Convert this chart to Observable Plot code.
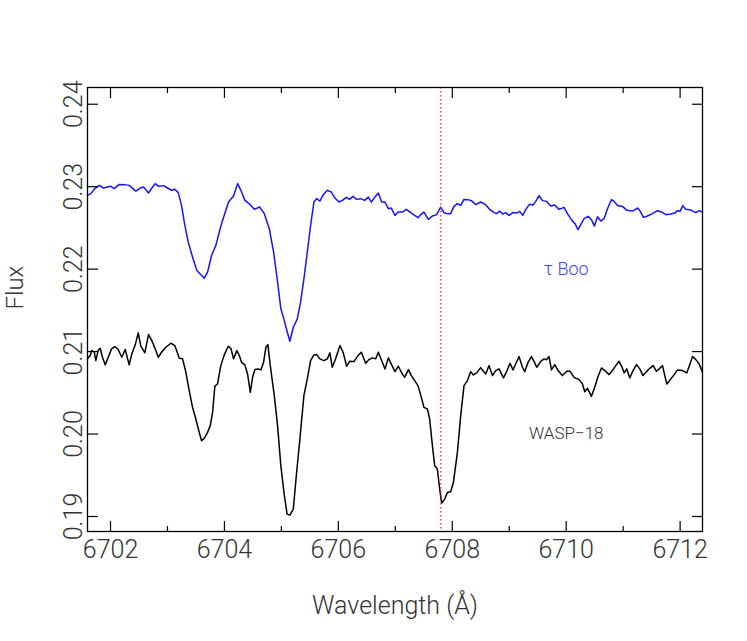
<!DOCTYPE html>
<html><head><meta charset="utf-8">
<script src="https://cdn.jsdelivr.net/npm/d3@7"></script>
<script src="https://cdn.jsdelivr.net/npm/@observablehq/plot@0.6"></script>
<style>html,body{margin:0;padding:0;background:#fff}</style>
</head><body><div id="chart"></div>
<script>
// tau Boo spectrum (wavelength in Å, flux)
const blueW = [6701.596,6701.654,6701.724,6701.802,6701.877,6701.947,6702.005,6702.065,6702.153,6702.241,
6702.328,6702.444,6702.522,6702.580,6702.667,6702.738,6702.785,6702.843,6702.931,6703.001,
6703.071,6703.129,6703.189,6703.247,6703.305,6703.365,6703.440,6703.516,6703.586,6703.646,
6703.704,6703.774,6703.850,6703.909,6703.967,6704.025,6704.073,6704.160,6704.231,6704.289,
6704.359,6704.447,6704.524,6704.617,6704.700,6704.788,6704.863,6704.933,6704.991,6705.044,
6705.104,6705.149,6705.209,6705.279,6705.337,6705.395,6705.455,6705.513,6705.571,6705.618,
6705.676,6705.736,6705.806,6705.877,6705.940,6706.010,6706.070,6706.140,6706.198,6706.256,
6706.321,6706.391,6706.462,6706.526,6706.579,6706.642,6706.702,6706.760,6706.818,6706.878,
6706.930,6706.994,6707.053,6707.124,6707.194,6707.270,6707.340,6707.398,6707.445,6707.503,
6707.580,6707.651,6707.726,6707.796,6707.854,6707.914,6707.972,6708.030,6708.090,6708.148,
6708.206,6708.276,6708.336,6708.411,6708.499,6708.587,6708.662,6708.733,6708.780,6708.833,
6708.885,6708.938,6708.996,6709.066,6709.131,6709.184,6709.237,6709.289,6709.355,6709.418,
6709.465,6709.523,6709.583,6709.653,6709.729,6709.799,6709.874,6709.962,6710.022,6710.092,
6710.155,6710.208,6710.256,6710.314,6710.384,6710.443,6710.496,6710.549,6710.607,6710.665,
6710.725,6710.795,6710.841,6710.900,6710.988,6711.064,6711.164,6711.252,6711.297,6711.357,
6711.427,6711.515,6711.603,6711.678,6711.749,6711.836,6711.907,6711.954,6712.000,6712.047,
6712.100,6712.188,6712.276,6712.334,6712.393];
const blueF = [0.22895,0.22916,0.22976,0.23016,0.22984,0.22996,0.23004,0.22976,0.23028,0.23025,
0.23016,0.22947,0.22984,0.22996,0.22923,0.22996,0.23037,0.23004,0.23013,0.22984,
0.22956,0.22968,0.22928,0.22773,0.22531,0.22328,0.22146,0.21984,0.21932,0.21891,
0.21963,0.22166,0.22288,0.22449,0.22591,0.22713,0.22814,0.22886,0.23037,0.22956,
0.22834,0.22786,0.22725,0.22753,0.22673,0.22490,0.22206,0.21842,0.21519,0.21397,
0.21235,0.21125,0.21295,0.21397,0.21599,0.21883,0.22206,0.22531,0.22814,0.22855,
0.22826,0.22903,0.22956,0.22935,0.22862,0.22814,0.22834,0.22871,0.22846,0.22883,
0.22846,0.22855,0.22834,0.22874,0.22814,0.22874,0.22923,0.22814,0.22814,0.22733,
0.22741,0.22652,0.22692,0.22692,0.22725,0.22685,0.22652,0.22624,0.22661,0.22692,
0.22603,0.22644,0.22661,0.22753,0.22685,0.22673,0.22673,0.22761,0.22794,0.22773,
0.22846,0.22843,0.22831,0.22782,0.22814,0.22782,0.22721,0.22685,0.22673,0.22704,
0.22668,0.22685,0.22652,0.22688,0.22680,0.22701,0.22652,0.22721,0.22786,0.22777,
0.22822,0.22891,0.22831,0.22822,0.22765,0.22777,0.22725,0.22749,0.22673,0.22600,
0.22551,0.22478,0.22539,0.22612,0.22640,0.22600,0.22522,0.22636,0.22583,0.22612,
0.22733,0.22843,0.22822,0.22773,0.22761,0.22713,0.22704,0.22741,0.22704,0.22628,
0.22644,0.22673,0.22709,0.22692,0.22661,0.22668,0.22680,0.22709,0.22701,0.22770,
0.22725,0.22716,0.22685,0.22709,0.22692];

// WASP-18 spectrum (wavelength in Å, flux)
const blackW = [6701.596,6701.643,6701.672,6701.714,6701.742,6701.784,6701.819,6701.859,6701.907,6701.960,
6702.018,6702.076,6702.135,6702.198,6702.258,6702.328,6702.374,6702.434,6702.487,6702.532,
6702.602,6702.667,6702.725,6702.785,6702.838,6702.896,6702.971,6703.059,6703.129,6703.207,
6703.265,6703.323,6703.382,6703.440,6703.498,6703.558,6703.598,6703.646,6703.704,6703.751,
6703.792,6703.832,6703.879,6703.937,6703.997,6704.067,6704.113,6704.160,6704.218,6704.261,
6704.301,6704.359,6704.406,6704.454,6704.494,6704.535,6704.594,6704.640,6704.687,6704.728,
6704.763,6704.805,6704.875,6704.933,6704.990,6705.048,6705.100,6705.149,6705.209,6705.267,
6705.325,6705.395,6705.455,6705.513,6705.571,6705.618,6705.676,6705.747,6705.806,6705.852,
6705.894,6705.952,6706.028,6706.087,6706.145,6706.198,6706.274,6706.344,6706.404,6706.479,
6706.537,6706.597,6706.655,6706.702,6706.760,6706.818,6706.878,6706.936,6706.994,6707.053,
6707.106,6707.164,6707.229,6707.282,6707.340,6707.398,6707.457,6707.503,6707.563,6707.603,
6707.651,6707.691,6707.738,6707.779,6707.814,6707.867,6707.914,6707.972,6708.020,6708.090,
6708.148,6708.206,6708.266,6708.323,6708.371,6708.429,6708.499,6708.546,6708.587,6708.645,
6708.705,6708.762,6708.821,6708.898,6708.956,6709.014,6709.066,6709.114,6709.172,6709.232,
6709.272,6709.330,6709.390,6709.435,6709.483,6709.553,6709.611,6709.653,6709.699,6709.741,
6709.799,6709.857,6709.934,6710.010,6710.068,6710.138,6710.226,6710.285,6710.326,6710.373,
6710.443,6710.501,6710.559,6710.619,6710.677,6710.753,6710.812,6710.870,6710.928,6710.976,
6711.016,6711.064,6711.116,6711.174,6711.234,6711.292,6711.350,6711.410,6711.468,6711.526,
6711.585,6711.643,6711.691,6711.731,6711.766,6711.824,6711.884,6711.954,6712.042,6712.118,
6712.175,6712.218,6712.276,6712.334,6712.393];
const blackF = [0.20912,0.20952,0.21012,0.21000,0.20891,0.21012,0.21040,0.20931,0.20839,0.20931,
0.21033,0.21061,0.21025,0.20931,0.21025,0.20839,0.20972,0.21082,0.21227,0.21065,
0.20985,0.21207,0.21134,0.21033,0.20931,0.20992,0.21053,0.21101,0.21073,0.20919,
0.20912,0.20749,0.20527,0.20324,0.20183,0.20020,0.19919,0.19947,0.20020,0.20102,
0.20263,0.20579,0.20608,0.20830,0.20960,0.21065,0.21040,0.20912,0.21012,0.20952,
0.20870,0.20839,0.20729,0.20506,0.20688,0.20782,0.20790,0.20778,0.20870,0.21053,
0.21085,0.20830,0.20466,0.20102,0.19616,0.19276,0.19029,0.19017,0.19090,0.19534,
0.19940,0.20466,0.20669,0.20891,0.20960,0.20964,0.20912,0.20891,0.20912,0.20985,
0.20810,0.20912,0.21073,0.20985,0.20822,0.20882,0.20879,0.20952,0.20992,0.20858,
0.20903,0.20924,0.20912,0.20992,0.20891,0.20790,0.20924,0.20839,0.20757,0.20822,
0.20749,0.20688,0.20782,0.20709,0.20648,0.20587,0.20445,0.20324,0.20304,0.20183,
0.19859,0.19616,0.19576,0.19333,0.19163,0.19211,0.19291,0.19300,0.19413,0.19777,
0.20223,0.20587,0.20648,0.20757,0.20717,0.20742,0.20806,0.20761,0.20729,0.20830,
0.20709,0.20770,0.20790,0.20681,0.20761,0.20858,0.20778,0.20851,0.20940,0.20810,
0.20757,0.20870,0.20940,0.20882,0.20810,0.20882,0.20912,0.20900,0.20940,0.20778,
0.20842,0.20770,0.20709,0.20761,0.20761,0.20688,0.20660,0.20608,0.20514,0.20555,
0.20457,0.20567,0.20697,0.20802,0.20770,0.20721,0.20770,0.20830,0.20882,0.20818,
0.20742,0.20790,0.20681,0.20770,0.20842,0.20790,0.20709,0.20757,0.20797,0.20830,
0.20761,0.20797,0.20830,0.20709,0.20608,0.20657,0.20709,0.20778,0.20770,0.20742,
0.20851,0.20940,0.20903,0.20851,0.20749];

const xMajor = [6702, 6704, 6706, 6708, 6710, 6712];
const xTickLabels = ["6702", "6704", "6706", "6708", "6710", "6712"];
const xMinor = [6703, 6705, 6707, 6709, 6711];
const yTicks = [0.19, 0.20, 0.21, 0.22, 0.23, 0.24];
const yTickLabels = ["0.19", "0.20", "0.21", "0.22", "0.23", "0.24"];
const xDomain = [6701.596, 6712.393];
const yDomain = [0.18818, 0.24203];
const liLine = [6707.8];
const starNames = ["\u03C4 Boo", "WASP\u221218"];
const starLabelW = [6710.0, 6710.0];
const starLabelF = [0.2200, 0.2000];

const blue = blueW.map((w, i) => ({w, f: blueF[i]}));
const black = blackW.map((w, i) => ({w, f: blackF[i]}));
const xLab = xMajor.map((v, i) => ({v, t: xTickLabels[i]}));
const yLab = yTicks.map((v, i) => ({v, t: yTickLabels[i]}));
const stars = starNames.map((t, i) => ({t, w: starLabelW[i], f: starLabelF[i]}));

const font = "Roboto, 'Liberation Sans', sans-serif";
const tickOpts = {stroke: "#000", strokeWidth: 1.2, fill: "none", label: null};

const chart = Plot.plot({
  width: 747, height: 641,
  marginLeft: 87, marginRight: 45, marginTop: 87, marginBottom: 110,
  style: {fontFamily: font, fontWeight: 300, background: "#fff", color: "#333", overflow: "visible"},
  x: {domain: xDomain, axis: null},
  y: {domain: yDomain, axis: null},
  marks: [
    Plot.line(blue, {x: "w", y: "f", stroke: "#1414ff", strokeWidth: 1.5}),
    Plot.line(black, {x: "w", y: "f", stroke: "#000", strokeWidth: 1.5}),
    Plot.ruleX(liLine, {stroke: "#ff2020", strokeWidth: 1.2, strokeDasharray: "1.5,2.5"}),
    Plot.frame({stroke: "#000", strokeWidth: 1.3}),
    Plot.axisX(xMajor, {anchor: "bottom", tickSize: -10, ...tickOpts}),
    Plot.axisX(xMajor, {anchor: "top", tickSize: -10, ...tickOpts}),
    Plot.axisX(xMinor, {anchor: "bottom", tickSize: -5, ...tickOpts}),
    Plot.axisX(xMinor, {anchor: "top", tickSize: -5, ...tickOpts}),
    Plot.axisY(yTicks, {anchor: "left", tickSize: -11, ...tickOpts}),
    Plot.axisY(yTicks, {anchor: "right", tickSize: -11, ...tickOpts}),
    Plot.text(xLab, {x: "v", text: "t", frameAnchor: "bottom", lineAnchor: "top", dy: 9, fontSize: 25, fill: "#333"}),
    Plot.text(yLab, {y: "v", text: "t", frameAnchor: "left", rotate: -90, textAnchor: "middle", lineAnchor: "bottom", dx: -6, fontSize: 25, fill: "#333"}),
    Plot.text(["Wavelength (\u00C5)"], {frameAnchor: "bottom", lineAnchor: "middle", dy: 74, fontSize: 25, fill: "#333"}),
    Plot.text(["Flux"], {frameAnchor: "left", rotate: -90, lineAnchor: "middle", dx: -72, fontSize: 24, fill: "#333"}),
    Plot.text(stars.slice(0, 1), {x: "w", y: "f", text: "t", fontSize: 18, fill: "#4040ff", lineAnchor: "middle"}),
    Plot.text(stars.slice(1), {x: "w", y: "f", text: "t", fontSize: 17, fill: "#333", lineAnchor: "middle"})
  ]
});
document.getElementById("chart").appendChild(chart);
</script>
</body></html>
